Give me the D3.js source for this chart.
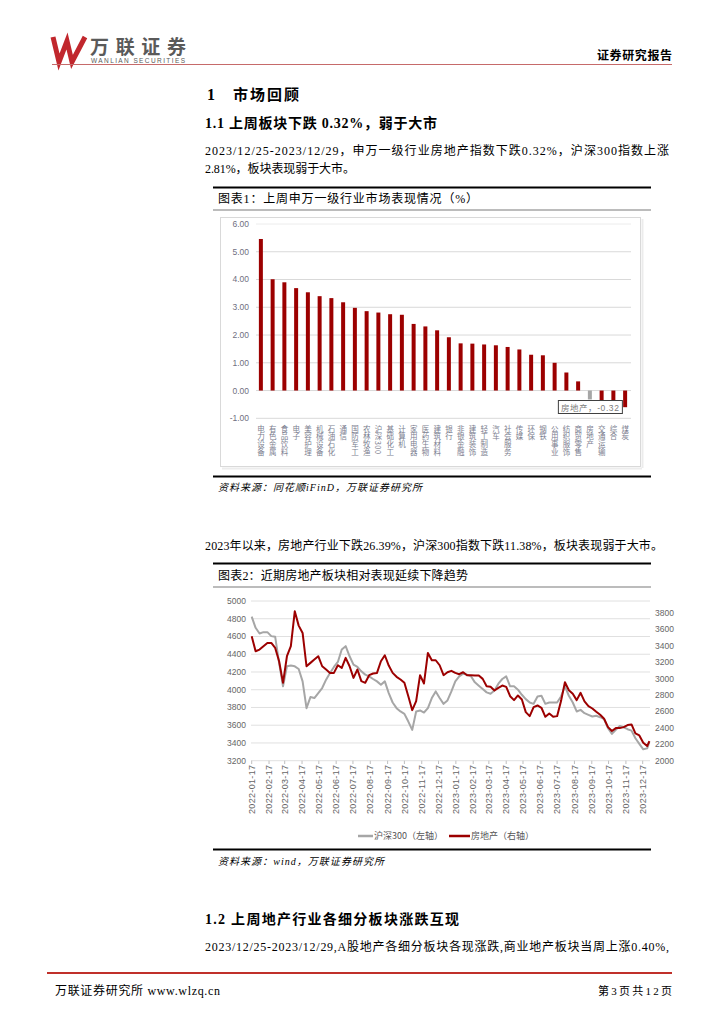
<!DOCTYPE html>
<html><head><meta charset="utf-8">
<script src="https://cdn.jsdelivr.net/npm/d3@7"></script>
<style>
html,body{margin:0;padding:0;background:#fff;}
svg{display:block;}
</style></head><body>
<svg id="page" width="724" height="1024"></svg>
<script>
// ---------- Chart 1 data ----------
const industries = ["电力设备","有色金属","食品饮料","电子","美容护理","机械设备","石油石化","通信","国防军工","农林牧渔","沪深300","基础化工","计算机","家用电器","医药生物","建筑材料","银行","非银金融","建筑装饰","轻工制造","汽车","社会服务","传媒","环保","钢铁","公用事业","纺织服饰","商贸零售","房地产","交通运输","综合","煤炭"];
const weeklyReturns = [5.46,4.01,3.90,3.69,3.54,3.40,3.33,3.18,2.98,2.86,2.81,2.75,2.73,2.40,2.31,2.17,1.92,1.70,1.69,1.66,1.63,1.57,1.48,1.29,1.27,1.00,0.65,0.33,-0.32,-0.36,-0.36,-0.60];
const barTicks = [-1,0,1,2,3,4,5,6];
const barTickLabels = ["-1.00","0.00","1.00","2.00","3.00","4.00","5.00","6.00"];

// ---------- Chart 2 data ----------
const lineDates = ["2022-01-17","2022-01-24","2022-01-31","2022-02-07","2022-02-14","2022-02-21","2022-02-28","2022-03-07","2022-03-14","2022-03-21","2022-03-28","2022-04-04","2022-04-11","2022-04-18","2022-04-25","2022-05-02","2022-05-09","2022-05-16","2022-05-23","2022-05-30","2022-06-06","2022-06-13","2022-06-20","2022-06-27","2022-07-04","2022-07-11","2022-07-18","2022-07-25","2022-08-01","2022-08-08","2022-08-15","2022-08-22","2022-08-29","2022-09-05","2022-09-12","2022-09-19","2022-09-26","2022-10-03","2022-10-10","2022-10-17","2022-10-24","2022-10-31","2022-11-07","2022-11-14","2022-11-21","2022-11-28","2022-12-05","2022-12-12","2022-12-19","2022-12-26","2023-01-02","2023-01-09","2023-01-16","2023-01-23","2023-01-30","2023-02-06","2023-02-13","2023-02-20","2023-02-27","2023-03-06","2023-03-13","2023-03-20","2023-03-27","2023-04-03","2023-04-10","2023-04-17","2023-04-24","2023-05-01","2023-05-08","2023-05-15","2023-05-22","2023-05-29","2023-06-05","2023-06-12","2023-06-19","2023-06-26","2023-07-03","2023-07-10","2023-07-17","2023-07-24","2023-07-31","2023-08-07","2023-08-14","2023-08-21","2023-08-28","2023-09-04","2023-09-11","2023-09-18","2023-09-25","2023-10-02","2023-10-09","2023-10-16","2023-10-23","2023-10-30","2023-11-06","2023-11-13","2023-11-20","2023-11-27","2023-12-04","2023-12-11","2023-12-18","2023-12-25","2023-12-29"];
const hs300 = [4823,4698,4634,4649,4649,4604,4596,4302,4038,4264,4272,4264,4234,4094,3792,3917,3906,3962,4019,4113,4189,4257,4313,4453,4491,4377,4283,4257,4207,4170,4151,4121,4094,4056,4094,3962,3856,3792,3755,3728,3641,3547,3755,3766,3743,3792,3906,3981,3906,3841,3879,3981,4094,4151,4181,4170,4151,4083,4045,4007,3970,3955,3992,4068,4121,4151,4038,4038,4000,3943,3894,3856,3841,3924,3932,3841,3856,3856,3856,3924,4038,3932,3856,3755,3773,3736,3717,3698,3706,3690,3668,3566,3502,3547,3592,3577,3555,3539,3453,3389,3328,3339,3410];
const realEstate = [3516,3334,3354,3395,3435,3435,3374,3212,2949,3273,3395,3820,3646,3557,3151,3192,3232,3273,3151,3111,3070,3070,3163,3131,3253,3151,3009,3111,2969,2949,3042,3062,3070,3212,3285,3159,3070,3022,2989,2949,2786,2616,2726,3042,2941,3313,3224,3224,3163,3042,3078,3095,3070,3054,3078,3042,3042,3038,3038,2997,2908,2900,2855,2888,2916,2900,2786,2738,2795,2746,2592,2543,2653,2673,2645,2535,2576,2535,2543,2726,2957,2859,2815,2738,2827,2722,2665,2636,2596,2559,2511,2409,2361,2397,2397,2409,2434,2442,2332,2308,2219,2178,2239];
const leftTicks = [3200,3400,3600,3800,4000,4200,4400,4600,4800,5000];
const rightTicks = [2000,2200,2400,2600,2800,3000,3200,3400,3600,3800];
const monthTicks = ["2022-01-17","2022-02-17","2022-03-17","2022-04-17","2022-05-17","2022-06-17","2022-07-17","2022-08-17","2022-09-17","2022-10-17","2022-11-17","2022-12-17","2023-01-17","2023-02-17","2023-03-17","2023-04-17","2023-05-17","2023-06-17","2023-07-17","2023-08-17","2023-09-17","2023-10-17","2023-11-17","2023-12-17"];
const legendLabels = ["沪深300（左轴）","房地产（右轴）"];

// ---------- drawing ----------
const SERIF = "'Liberation Serif','Noto Sans CJK SC',serif";
const SANS = "'Liberation Sans','Noto Sans CJK SC',sans-serif";
const CJK = "'Noto Sans CJK SC',sans-serif";
const svg = d3.select("#page");
svg.append("rect").attr("width",724).attr("height",1024).attr("fill","#fff");

function T(x,y,s,o={}){
  const t = svg.append("text").attr("x",x).attr("y",y).text(s)
    .attr("font-family",o.ff||SERIF).attr("font-size",o.fs||12).attr("fill",o.fill||"#000");
  if(o.fw) t.attr("font-weight",o.fw);
  if(o.anchor) t.attr("text-anchor",o.anchor);
  if(o.italic) t.attr("font-style","italic");
  if(o.len) t.attr("textLength",o.len).attr("lengthAdjust","spacing");
  return t;
}
function L(x1,y1,x2,y2,c,w){
  return svg.append("line").attr("x1",x1).attr("y1",y1).attr("x2",x2).attr("y2",y2)
    .attr("stroke",c).attr("stroke-width",w);
}

// header
svg.append("polyline").attr("points","53,37 59,62 67,41 72,62 85,37")
  .attr("fill","none").attr("stroke","#c1272d").attr("stroke-width",5).attr("stroke-linejoin","miter");
T(90,54,"万联证券",{ff:CJK,fs:19,fw:"bold",fill:"#5a5a5a",len:96});
T(91,63,"WANLIAN SECURITIES",{ff:SANS,fs:6.5,fill:"#5a5a5a",len:94});
T(597,60,"证券研究报告",{ff:CJK,fs:12,fw:"bold",len:75});
L(52,64.5,672,64.5,"#c66a6a",1);

// headings & paragraphs
T(207,100,"1",{fs:16,fw:"bold"});
T(233,100,"市场回顾",{ff:SERIF,fs:15,fw:"bold",len:66});
T(205,128,"1.1  上周板块下跌 0.32%，弱于大市",{fs:14,fw:"bold",len:232});
T(205,155,"2023/12/25-2023/12/29，申万一级行业房地产指数下跌0.32%，沪深300指数上涨",{fs:12,len:464});
T(205,173,"2.81%，板块表现弱于大市。",{fs:12,len:150});

// chart 1 frame
L(213,187.5,651,187.5,"#000",2);
T(218,203,"图表1：上周申万一级行业市场表现情况（%）",{fs:12,len:260});
L(213,210,651,210,"#a6a6a6",1.5);
svg.append("rect").attr("x",220.5).attr("y",217.5).attr("width",420).attr("height",249)
  .attr("fill","none").attr("stroke","#d9d9d9").attr("stroke-width",1);
L(642.5,219,642.5,468,"#ececec",2);
L(222,468.5,642,468.5,"#ececec",2);

const xB = d3.scaleBand().domain(industries).range([255,631]).paddingInner(0.66).paddingOuter(0.33);
const yB = d3.scaleLinear().domain([-1,6]).range([418.3,224]);
const g1 = svg.append("g");
g1.selectAll("line.grid").data(barTicks).join("line")
  .attr("x1",256).attr("x2",631).attr("y1",d=>yB(d)).attr("y2",d=>yB(d))
  .attr("stroke",(d)=>d===6?"#ececec":"#d9d9d9").attr("stroke-width",1);
g1.selectAll("text.yl").data(barTicks).join("text")
  .attr("x",249).attr("y",d=>yB(d)).attr("dy","0.35em").attr("text-anchor","end")
  .attr("font-family",SANS).attr("font-size",8.5).attr("fill","#6f6f7f")
  .text((d,i)=>barTickLabels[i]);
g1.selectAll("rect.bar").data(industries).join("rect")
  .attr("x",d=>xB(d)).attr("width",xB.bandwidth())
  .attr("y",(d,i)=>Math.min(yB(weeklyReturns[i]),yB(0)))
  .attr("height",(d,i)=>Math.abs(yB(weeklyReturns[i])-yB(0)))
  .attr("fill",d=>d==="房地产"?"#a6a6a6":"#9c0000");
// vertical category labels (one vertical text per label)
g1.selectAll("text.xl").data(industries).join("text")
  .attr("x",d=>xB(d)+xB.bandwidth()/2).attr("y",425)
  .style("writing-mode","vertical-rl")
  .attr("font-family",CJK).attr("font-size",7.5).attr("letter-spacing",0.4)
  .attr("fill","#7c8090").text(d=>d);
// data label for 房地产
const reIdx = industries.indexOf("房地产");
const lbx = xB("房地产")+xB.bandwidth()/2;
svg.append("rect").attr("x",lbx-31.5).attr("y",400.5).attr("width",64).attr("height",13)
  .attr("fill","#fff").attr("stroke","#404040").attr("stroke-width",1);
T(lbx-29,410.5,"房地产，"+weeklyReturns[reIdx].toFixed(2),{ff:SANS,fs:8.5,fill:"#7c7c7c",len:58});

L(213,476.5,651,476.5,"#000",2);
T(218,491,"资料来源：同花顺iFinD，万联证券研究所",{fs:10,italic:true,len:204});

// paragraph 2
T(205,550,"2023年以来，房地产行业下跌26.39%，沪深300指数下跌11.38%，板块表现弱于大市。",{fs:12,len:458});

// chart 2 frame
L(213,563.5,651,563.5,"#000",2);
T(218,580,"图表2：近期房地产板块相对表现延续下降趋势",{fs:12,len:250});
L(213,587,651,587,"#a6a6a6",1.5);

const parse = d3.timeParse("%Y-%m-%d");
const dates = lineDates.map(parse);
const xT = d3.scaleTime().domain([parse("2022-01-17"),parse("2023-12-29")]).range([251.7,649.4]);
const yL = d3.scaleLinear().domain([3200,5000]).range([760.7,601]);
const yR = d3.scaleLinear().domain([2000,3946]).range([760.7,601]);
const g2 = svg.append("g");
g2.selectAll("line.grid").data(leftTicks).join("line")
  .attr("x1",251).attr("x2",650).attr("y1",d=>yL(d)).attr("y2",d=>yL(d))
  .attr("stroke","#e0e0e0").attr("stroke-width",1);
g2.selectAll("text.ll").data(leftTicks).join("text")
  .attr("x",246).attr("y",d=>yL(d)).attr("dy","0.35em").attr("text-anchor","end")
  .attr("font-family",SANS).attr("font-size",8.5).attr("fill","#666").text(d=>d);
g2.selectAll("text.rl").data(rightTicks).join("text")
  .attr("x",655).attr("y",d=>yR(d)).attr("dy","0.35em")
  .attr("font-family",SANS).attr("font-size",8.5).attr("fill","#666").text(d=>d);
const mt = monthTicks.map(parse);
g2.selectAll("line.tk").data(mt).join("line")
  .attr("x1",d=>xT(d)).attr("x2",d=>xT(d)).attr("y1",760.7).attr("y2",764)
  .attr("stroke","#bfbfbf").attr("stroke-width",1);
g2.selectAll("text.xt").data(monthTicks).join("text")
  .attr("transform",(d,i)=>`translate(${xT(mt[i])},765) rotate(-90)`)
  .attr("dy","0.35em").attr("text-anchor","end")
  .attr("font-family",SANS).attr("font-size",9).attr("fill","#666")
  .attr("textLength",49).attr("lengthAdjust","spacing").text(d=>d);
const lineL = d3.line().x((d,i)=>xT(dates[i])).y(d=>yL(d));
const lineR = d3.line().x((d,i)=>xT(dates[i])).y(d=>yR(d));
g2.append("path").attr("d",lineL(hs300)).attr("fill","none").attr("stroke","#a6a6a6").attr("stroke-width",2).attr("stroke-linejoin","round");
g2.append("path").attr("d",lineR(realEstate)).attr("fill","none").attr("stroke","#9c0000").attr("stroke-width",2).attr("stroke-linejoin","round");

// legend
L(358,836,373,836,"#a6a6a6",2.5);
T(374,839,legendLabels[0],{ff:CJK,fs:9,fill:"#555"});
L(449,836,470,836,"#9c0000",2.5);
T(471,839,legendLabels[1],{ff:CJK,fs:9,fill:"#555"});

L(213,849.5,651,849.5,"#000",2);
T(218,865,"资料来源：wind，万联证券研究所",{fs:10,italic:true,len:166});

// section 1.2
T(205,924,"1.2  上周地产行业各细分板块涨跌互现",{fs:14,fw:"bold",len:254});
T(205,951,"2023/12/25-2023/12/29,A股地产各细分板块各现涨跌,商业地产板块当周上涨0.40%,",{fs:12,len:464});

// footer
L(47,973,672,973,"#c0302a",2);
T(55,995,"万联证券研究所 www.wlzq.cn",{fs:12,len:165});
T(598,995,"第3页共12页",{fs:11,len:74});
</script>
</body></html>
